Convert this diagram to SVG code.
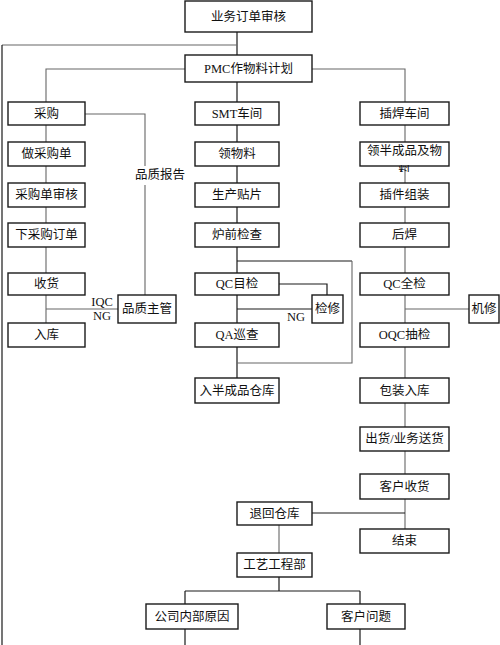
<svg xmlns="http://www.w3.org/2000/svg" width="500" height="645" viewBox="0 0 500 645">
<defs>
<style>
.b{fill:#fff;stroke:#1a1a1a;stroke-width:1.4}
.t{font-family:"Liberation Serif","Noto Sans CJK SC",serif;font-size:12.5px;fill:#111;text-anchor:middle;dominant-baseline:central}
.dk{fill:none;stroke:#1a1a1a;stroke-width:1.2}
.lt{fill:none;stroke:#666;stroke-width:1.1}
</style>
<clipPath id="cl"><rect x="395" y="163" width="20" height="9"/></clipPath>
</defs>
<rect width="500" height="645" fill="#fff"/>
<g id="connectors">
<path class="dk" d="M237 32V55"/>
<path class="lt" d="M2 45H237"/>
<path class="dk" d="M2 45V645"/>
<path class="lt" d="M185 69H46V102M312 69H405V102"/>
<path class="dk" d="M237 82V102"/>
<path class="lt" d="M46 125V142M46 166V183M46 207V223M46 247V273M46 295V323"/>
<path class="lt" d="M85 114H145V166M145 185V295"/>
<path class="lt" d="M46 309H118"/>
<path class="dk" d="M237 125V142M237 166V183M237 207V223M237 247V273M237 295V323M237 347V378"/>
<path class="dk" d="M237 261H352"/>
<path class="lt" d="M352 261V363H237"/>
<path class="dk" d="M279 284H327V295M237 309H312"/>
<path class="lt" d="M405 125V142M405 166V183M405 207V223M405 247V273M405 295V323M405 347V378M405 403V427M405 451V474M405 499V529"/>
<path class="lt" d="M405 309H469"/>
<path class="dk" d="M312 513H405"/>
<path class="lt" d="M279 525V553"/>
<path class="dk" d="M279 577V591M185 591H360M185 591V604M360 591V604M185 629V645M360 629V645"/>
</g>
<g id="n-order"><rect class="b" x="185" y="1" width="127" height="31"/><text class="t" x="248.5" y="16.5">业务订单审核</text></g>
<g id="n-pmc"><rect class="b" x="185" y="55" width="127" height="27"/><text class="t" x="248.5" y="68.5">PMC作物料计划</text></g>
<g id="n-purchase"><rect class="b" x="8" y="102" width="77" height="23"/><text class="t" x="46.5" y="113.5">采购</text></g>
<g id="n-smt"><rect class="b" x="195" y="102" width="84" height="23"/><text class="t" x="237" y="113.5">SMT车间</text></g>
<g id="n-dip"><rect class="b" x="360" y="102" width="89" height="23"/><text class="t" x="404.5" y="113.5">插焊车间</text></g>
<g id="n-po"><rect class="b" x="8" y="142" width="77" height="24"/><text class="t" x="46.5" y="154">做采购单</text></g>
<g id="n-poaudit"><rect class="b" x="8" y="183" width="77" height="24"/><text class="t" x="46.5" y="195">采购单审核</text></g>
<g id="n-order2"><rect class="b" x="8" y="223" width="77" height="24"/><text class="t" x="46.5" y="235">下采购订单</text></g>
<g id="n-receive"><rect class="b" x="8" y="273" width="77" height="22"/><text class="t" x="46.5" y="284">收货</text></g>
<g id="n-stock"><rect class="b" x="8" y="323" width="77" height="24"/><text class="t" x="46.5" y="335">入库</text></g>
<g id="n-qm"><rect class="b" x="118" y="295" width="58" height="28"/><text class="t" x="147" y="309">品质主管</text></g>
<g id="n-mat"><rect class="b" x="195" y="142" width="84" height="24"/><text class="t" x="237" y="154">领物料</text></g>
<g id="n-smtprod"><rect class="b" x="195" y="183" width="84" height="24"/><text class="t" x="237" y="195">生产贴片</text></g>
<g id="n-pre"><rect class="b" x="195" y="223" width="84" height="24"/><text class="t" x="237" y="235">炉前检查</text></g>
<g id="n-qcv"><rect class="b" x="195" y="273" width="84" height="22"/><text class="t" x="237" y="284">QC目检</text></g>
<g id="n-repair"><rect class="b" x="312" y="295" width="31" height="28"/><text class="t" x="327.5" y="309">检修</text></g>
<g id="n-qa"><rect class="b" x="195" y="323" width="84" height="24"/><text class="t" x="237" y="335">QA巡查</text></g>
<g id="n-semi"><rect class="b" x="195" y="378" width="84" height="25"/><text class="t" x="237" y="390.5">入半成品仓库</text></g>
<g id="n-semimat"><rect class="b" x="360" y="142" width="89" height="24"/><text class="t" x="404.5" y="151">领半成品及物</text><text class="t" x="404.5" y="172" clip-path="url(#cl)">料</text></g>
<g id="n-insert"><rect class="b" x="360" y="183" width="89" height="24"/><text class="t" x="404.5" y="195">插件组装</text></g>
<g id="n-post"><rect class="b" x="360" y="223" width="89" height="24"/><text class="t" x="404.5" y="235">后焊</text></g>
<g id="n-qcfull"><rect class="b" x="360" y="273" width="89" height="22"/><text class="t" x="404.5" y="284">QC全检</text></g>
<g id="n-mrepair"><rect class="b" x="469" y="295" width="30" height="28"/><text class="t" x="484" y="309">机修</text></g>
<g id="n-oqc"><rect class="b" x="360" y="323" width="89" height="24"/><text class="t" x="404.5" y="335">OQC抽检</text></g>
<g id="n-pack"><rect class="b" x="360" y="378" width="89" height="25"/><text class="t" x="404.5" y="390.5">包装入库</text></g>
<g id="n-ship"><rect class="b" x="360" y="427" width="89" height="24"/><text class="t" x="404.5" y="439">出货/业务送货</text></g>
<g id="n-custrecv"><rect class="b" x="360" y="474" width="89" height="25"/><text class="t" x="404.5" y="486.5">客户收货</text></g>
<g id="n-return"><rect class="b" x="237" y="502" width="75" height="23"/><text class="t" x="274.5" y="513.5">退回仓库</text></g>
<g id="n-end"><rect class="b" x="360" y="529" width="89" height="24"/><text class="t" x="404.5" y="541">结束</text></g>
<g id="n-eng"><rect class="b" x="237" y="553" width="75" height="24"/><text class="t" x="274.5" y="565">工艺工程部</text></g>
<g id="n-internal"><rect class="b" x="146" y="604" width="92" height="25"/><text class="t" x="192" y="616.5">公司内部原因</text></g>
<g id="n-cust"><rect class="b" x="327" y="604" width="78" height="25"/><text class="t" x="366" y="616.5">客户问题</text></g>
<g id="labels">
<text class="t" x="160" y="175">品质报告</text>
<text class="t" x="102" y="302">IQC</text>
<text class="t" x="102" y="316">NG</text>
<text class="t" x="296" y="317">NG</text>
</g>
</svg>
